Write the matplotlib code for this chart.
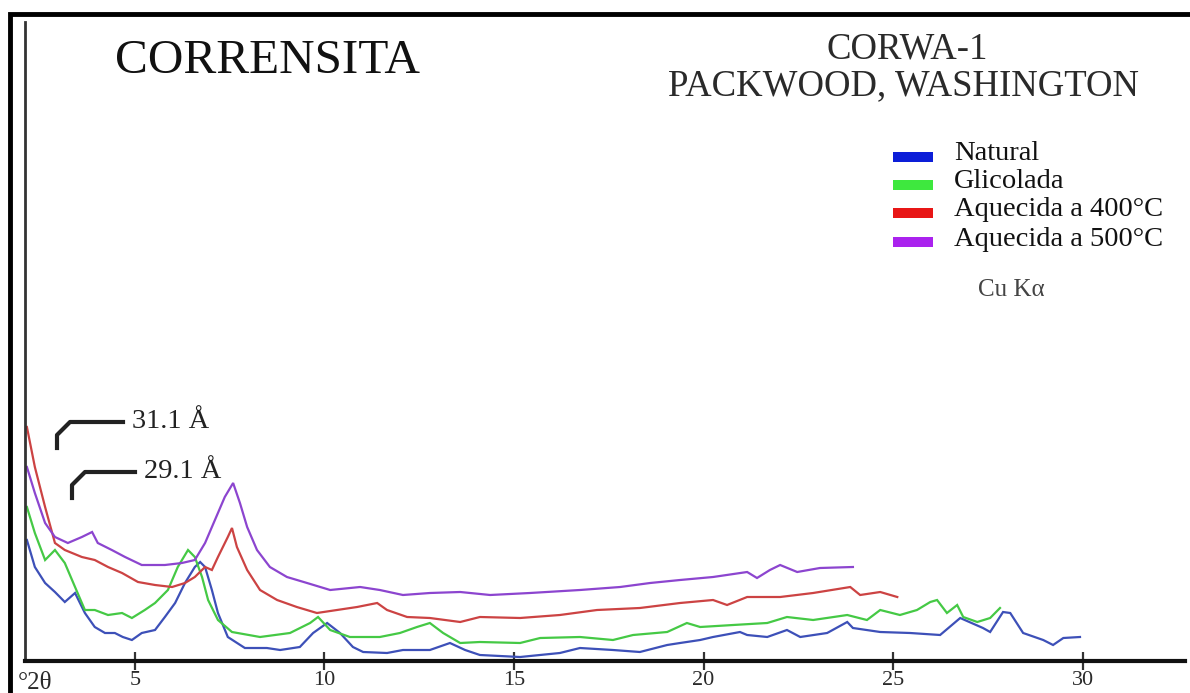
import matplotlib
matplotlib.use("Agg")
import matplotlib.pyplot as plt
from matplotlib.lines import Line2D
from matplotlib.patches import Rectangle

# ── data (°2θ, arbitrary intensity) ────
natural_x = [2.15, 2.36, 2.63, 2.89, 3.15, 3.42, 3.68, 3.94, 4.21, 4.47, 4.68, 4.92,
             5.18, 5.53, 5.79, 6.06, 6.32, 6.58, 6.72, 6.85, 7.03, 7.19, 7.45, 7.90,
             8.48, 8.83, 9.35, 9.70, 10.07, 10.41, 10.75, 11.02, 11.65, 12.07, 12.78,
             13.31, 13.71, 14.10, 15.16, 16.21, 16.74, 17.61, 18.32, 19.04, 19.38,
             19.91, 20.25, 20.96, 21.15, 21.68, 22.20, 22.55, 23.26, 23.79, 23.94,
             24.66, 25.45, 26.24, 26.77, 27.37, 27.56, 27.90, 28.09, 28.43, 28.96,
             29.22, 29.49, 29.93]
natural_y = [121, 94, 78, 69, 59, 68, 48, 34, 28, 28, 24, 21,
             28, 31, 44, 58, 78, 94, 99, 94, 71, 48, 24, 13,
             13, 11, 14, 28, 38, 28, 14, 9, 8, 11, 11,
             18, 11, 6, 4, 8, 13, 11, 9, 16, 18,
             21, 24, 29, 26, 24, 31, 24, 28, 39, 33,
             29, 28, 26, 43, 33, 29, 49, 48, 28, 21,
             16, 23, 24]

glicolada_x = [2.15, 2.36, 2.63, 2.89, 3.15, 3.42, 3.68, 3.94, 4.29, 4.66, 4.92, 5.26,
               5.53, 5.87, 6.13, 6.40, 6.58, 6.77, 6.93, 7.19, 7.56, 8.30, 9.09, 9.62,
               9.83, 10.15, 10.67, 11.46, 11.99, 12.44, 12.78, 13.13, 13.58, 14.10,
               15.16, 15.69, 16.74, 17.61, 18.14, 19.04, 19.56, 19.91, 20.78, 21.68,
               22.20, 22.89, 23.79, 24.31, 24.66, 25.18, 25.63, 25.98, 26.16, 26.42,
               26.69, 26.85, 27.22, 27.56, 27.82]
glicolada_y = [154, 128, 101, 111, 98, 74, 51, 51, 46, 48, 43, 51,
               58, 71, 94, 111, 104, 84, 61, 41, 29, 24, 28, 38,
               44, 31, 24, 24, 28, 34, 38, 28, 18, 19,
               18, 23, 24, 21, 26, 29, 38, 34, 36, 38,
               44, 41, 46, 41, 51, 46, 51, 59, 61, 48,
               56, 44, 39, 43, 53]

aq400_x = [2.15, 2.36, 2.63, 2.89, 3.15, 3.60, 3.94, 4.29, 4.66, 5.08, 5.53, 5.98,
           6.32, 6.58, 6.85, 7.03, 7.19, 7.45, 7.56, 7.69, 7.96, 8.30, 8.75, 9.27,
           9.80, 10.33, 10.86, 11.39, 11.65, 12.18, 12.78, 13.58, 14.10, 15.16,
           16.21, 17.19, 18.32, 19.38, 20.25, 20.62, 21.15, 22.02, 22.89, 23.87,
           24.13, 24.66, 25.11]
aq400_y = [234, 194, 154, 118, 111, 104, 101, 94, 88, 79, 76, 74,
           78, 84, 94, 91, 104, 124, 133, 114, 91, 71, 61, 54,
           48, 51, 54, 58, 51, 44, 43, 39, 44, 43,
           46, 51, 53, 58, 61, 56, 64, 64, 68, 74,
           66, 69, 64]

aq500_x = [2.15, 2.36, 2.63, 2.89, 3.23, 3.60, 3.87, 4.02, 4.39, 4.74, 5.18, 5.79,
           6.24, 6.58, 6.85, 7.11, 7.37, 7.59, 7.77, 7.96, 8.22, 8.56, 9.01, 9.54,
           10.15, 10.94, 11.46, 12.07, 12.78, 13.58, 14.37, 15.42, 16.74, 17.80,
           18.59, 19.38, 20.25, 21.15, 21.41, 21.75, 22.02, 22.47, 23.07, 23.94]
aq500_y = [194, 168, 138, 124, 118, 124, 129, 118, 111, 104, 96, 96,
           98, 101, 118, 141, 164, 178, 158, 134, 111, 94, 84, 78,
           71, 74, 71, 66, 68, 69, 66, 68, 71, 74,
           78, 81, 84, 89, 83, 91, 96, 89, 93, 94]

labels = ["Natural", "Glicolada", "Aquecida a 400°C", "Aquecida a 500°C"]
line_colors = ["#3d50b8", "#45c945", "#cc4343", "#8c45cf"]
legend_colors = ["#0c1ed8", "#3ee83e", "#e81616", "#aa22ee"]
xticks = [5, 10, 15, 20, 25, 30]

W, H = 1190, 693
SERIF = ["Liberation Serif", "DejaVu Serif"]
INK = "#2a2a2a"


def fx(px):
    return px / W


def fy(py):
    return 1 - py / H


fig = plt.figure(figsize=(W / 100, H / 100), dpi=100)
fig.patch.set_facecolor("white")

# outer frame of the scanned page
fig.add_artist(Rectangle((fx(10), fy(700)), fx(1200) - fx(10), fy(14) - fy(700),
                         fill=False, edgecolor="black", linewidth=3.5,
                         transform=fig.transFigure))

ax = fig.add_axes([fx(25), fy(661), fx(1185) - fx(25), fy(22) - fy(661)])
ax.set_xlim(2.10, 32.70)
ax.set_ylim(0, 639)
ax.set_facecolor("none")

series = [(natural_x, natural_y), (glicolada_x, glicolada_y),
          (aq400_x, aq400_y), (aq500_x, aq500_y)]
for (xs, ys), c in zip(series, line_colors):
    ax.plot(xs, ys, color=c, linewidth=1.6, solid_joinstyle="miter")

ax.spines[["top", "right"]].set_visible(False)
ax.spines["left"].set_linewidth(2.0)
ax.spines["left"].set_color("#333333")
ax.spines["bottom"].set_linewidth(3.0)
ax.spines["bottom"].set_color("#111111")
ax.set_yticks([])
ax.set_xticks(xticks)
ax.set_xticklabels([str(t) for t in xticks], family=SERIF, fontsize=16, color=INK)
ax.tick_params(axis="x", direction="inout", length=13, width=1.6,
               color="#333333", pad=1)

fig.text(fx(18), fy(683), "°2θ", family=SERIF, fontsize=18, color=INK,
         va="center", ha="left")

# titles
fig.text(fx(115), fy(61), "CORRENSITA", family=SERIF, fontsize=35.5,
         color="#111111", va="center", ha="left")
fig.text(fx(907), fy(49), "CORWA-1", family=SERIF, fontsize=26.5,
         color=INK, va="center", ha="center")
fig.text(fx(904), fy(86), "PACKWOOD, WASHINGTON", family=SERIF, fontsize=26.5,
         color=INK, va="center", ha="center")

# legend
rows = [157, 185, 213, 242]
for row, lab, c in zip(rows, labels, legend_colors):
    fig.add_artist(Rectangle((fx(893), fy(row + 5)), fx(933) - fx(893),
                             fy(row - 5) - fy(row + 5), facecolor=c,
                             edgecolor="none", transform=fig.transFigure))
    fig.text(fx(954), fy(row - 3), lab, family=SERIF, fontsize=20.5,
             color="#111111", va="center", ha="left")
fig.text(fx(978), fy(290), "Cu Kα", family=SERIF, fontsize=18,
         color="#444444", va="center", ha="left")

# d-spacing markers
for (x0, y0, x1, y1, x2), txt in [((57, 448, 70, 422, 123), "31.1 Å"),
                                  ((72, 498, 85, 472, 135), "29.1 Å")]:
    fig.add_artist(Line2D([fx(x0), fx(x0), fx(x1), fx(x2)],
                          [fy(y0), fy(y0 - 13), fy(y1), fy(y1)],
                          color="#222222", linewidth=3,
                          transform=fig.transFigure))
    fig.text(fx(x2 + 9), fy(y1 - 1), txt, family=SERIF, fontsize=20.5,
             color="#222222", va="center", ha="left")

fig.savefig("out.png", dpi=100, facecolor="white")
plt.close(fig)
